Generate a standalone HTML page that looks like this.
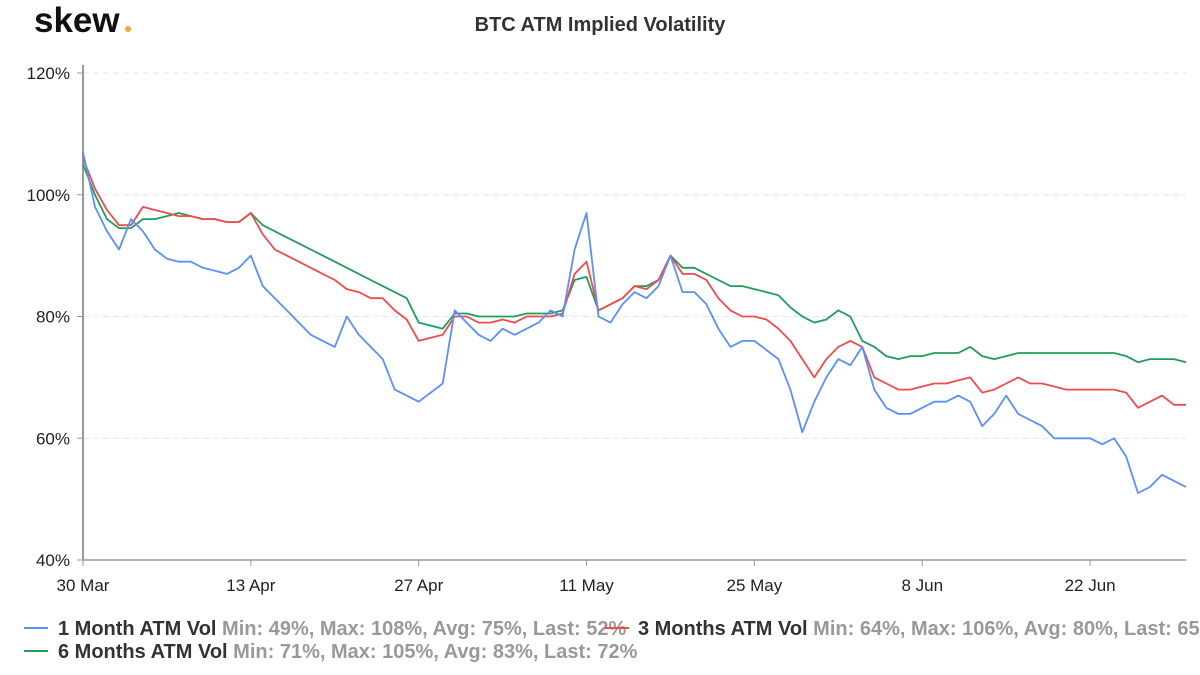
<!DOCTYPE html>
<html><head><meta charset="utf-8"><style>
body{margin:0;background:#fff;font-family:"Liberation Sans",Arial,sans-serif;}
svg text{font-family:"Liberation Sans",Arial,sans-serif;}
</style></head><body>
<svg id="chart" width="1200" height="670" viewBox="0 0 1200 670">
<text x="34" y="32" font-size="35" font-weight="bold" fill="#111">skew</text>
<circle cx="128" cy="29" r="3" fill="#f5a623"/>
<text x="600" y="31" text-anchor="middle" font-size="20" font-weight="bold" fill="#333">BTC ATM Implied Volatility</text>
<g id="grid"></g><g id="axes"></g><g id="series"></g>
<g font-size="20" font-weight="bold">
<g>
<line x1="24" y1="628" x2="48" y2="628" stroke="#5b8ff9" stroke-width="2"/>
<text x="58" y="635" fill="#333">1 Month ATM Vol <tspan fill="#999">Min: 49%, Max: 108%, Avg: 75%, Last: 52%</tspan></text></g>
<g>
<line x1="605" y1="628" x2="629" y2="628" stroke="#f04b4b" stroke-width="2"/>
<text x="638" y="635" fill="#333">3 Months ATM Vol <tspan fill="#999">Min: 64%, Max: 106%, Avg: 80%, Last: 65%</tspan></text></g>
<g>
<line x1="24" y1="651" x2="48" y2="651" stroke="#1f9e5a" stroke-width="2"/>
<text x="58" y="658" fill="#333">6 Months ATM Vol <tspan fill="#999">Min: 71%, Max: 105%, Avg: 83%, Last: 72%</tspan></text></g>
</g>
</svg>
<script>
const yTicks=[40,60,80,100,120];
const xTickLabels=["30 Mar","13 Apr","27 Apr","11 May","25 May","8 Jun","22 Jun"];
const xTickDays=[0,14,28,42,56,70,84];
const vol1m=[107,98,94,91,96,94,91,89.5,89,89,88,87.5,87,88,90,85,83,81,79,77,76,75,80,77,75,73,68,67,66,67.5,69,81,79,77,76,78,77,78,79,81,80,91,97,80,79,82,84,83,85,90,84,84,82,78,75,76,76,74.5,73,68,61,66,70,73,72,75,68,65,64,64,65,66,66,67,66,62,64,67,64,63,62,60,60,60,60,59,60,57,51,52,54,53,52];
const vol3m=[106,101,97.5,95,95,98,97.5,97,96.5,96.5,96,96,95.5,95.5,97,93.5,91,90,89,88,87,86,84.5,84,83,83,81,79.5,76,76.5,77,80,80,79,79,79.5,79,80,80,80,80.5,87,89,81,82,83,85,84.5,86,90,87,87,86,83,81,80,80,79.5,78,76,73,70,73,75,76,75,70,69,68,68,68.5,69,69,69.5,70,67.5,68,69,70,69,69,68.5,68,68,68,68,68,67.5,65,66,67,65.5,65.5];
const vol6m=[105,100,96,94.5,94.5,96,96,96.5,97,96.5,96,96,95.5,95.5,97,95,94,93,92,91,90,89,88,87,86,85,84,83,79,78.5,78,80.5,80.5,80,80,80,80,80.5,80.5,80.5,81,86,86.5,81,82,83,85,85,86,90,88,88,87,86,85,85,84.5,84,83.5,81.5,80,79,79.5,81,80,76,75,73.5,73,73.5,73.5,74,74,74,75,73.5,73,73.5,74,74,74,74,74,74,74,74,74,73.5,72.5,73,73,73,72.5];
const NS="http://www.w3.org/2000/svg";
const X0=83,X1=1186,Y0=560,Y1=73,DAYS=92;
const xs=d=>X0+(X1-X0)*d/DAYS;
const ys=v=>Y0-(Y0-Y1)*(v-40)/80;
const grid=document.getElementById('grid'),axes=document.getElementById('axes'),ser=document.getElementById('series');
function mk(tag,at,parent){const e=document.createElementNS(NS,tag);for(const k in at)e.setAttribute(k,at[k]);parent.appendChild(e);return e;}
yTicks.forEach(v=>{
 if(v>40){const g=mk('line',{x1:X0,x2:X1,y1:ys(v),y2:ys(v),stroke:'#e6e6e6','stroke-dasharray':'6,4'},grid);
 
 }
 const t=mk('text',{x:70,y:ys(v)+6,'text-anchor':'end','font-size':'17',fill:'#222'},axes);t.textContent=v+'%';
 
 
 mk('line',{x1:X0-6,x2:X0,y1:ys(v),y2:ys(v),stroke:'#999'},axes);
});
const ax=mk('line',{x1:X0,x2:X0,y1:Y1-8,y2:Y0,stroke:'#999','stroke-width':2},axes);


const bx=mk('line',{x1:X0,x2:X1,y1:Y0,y2:Y0,stroke:'#999','stroke-width':1.5},axes);


xTickDays.forEach((d,i)=>{
 mk('line',{x1:xs(d),x2:xs(d),y1:Y0,y2:Y0+6,stroke:'#999'},axes);
 const t=mk('text',{x:xs(d),y:591,'text-anchor':'middle','font-size':'17',fill:'#222'},axes);t.textContent=xTickLabels[i];
 
 
});
[[vol6m,'#1f9e5a','series-6m'],[vol3m,'#f04b4b','series-3m'],[vol1m,'#5b8ff9','series-1m']].forEach(([arr,c,n])=>{
 const p=mk('polyline',{points:arr.map((v,i)=>xs(i).toFixed(1)+','+ys(v).toFixed(1)).join(' '),fill:'none',stroke:c,'stroke-width':1.8,'stroke-linejoin':'round'},ser);
 
 
});
</script>
</body></html>
